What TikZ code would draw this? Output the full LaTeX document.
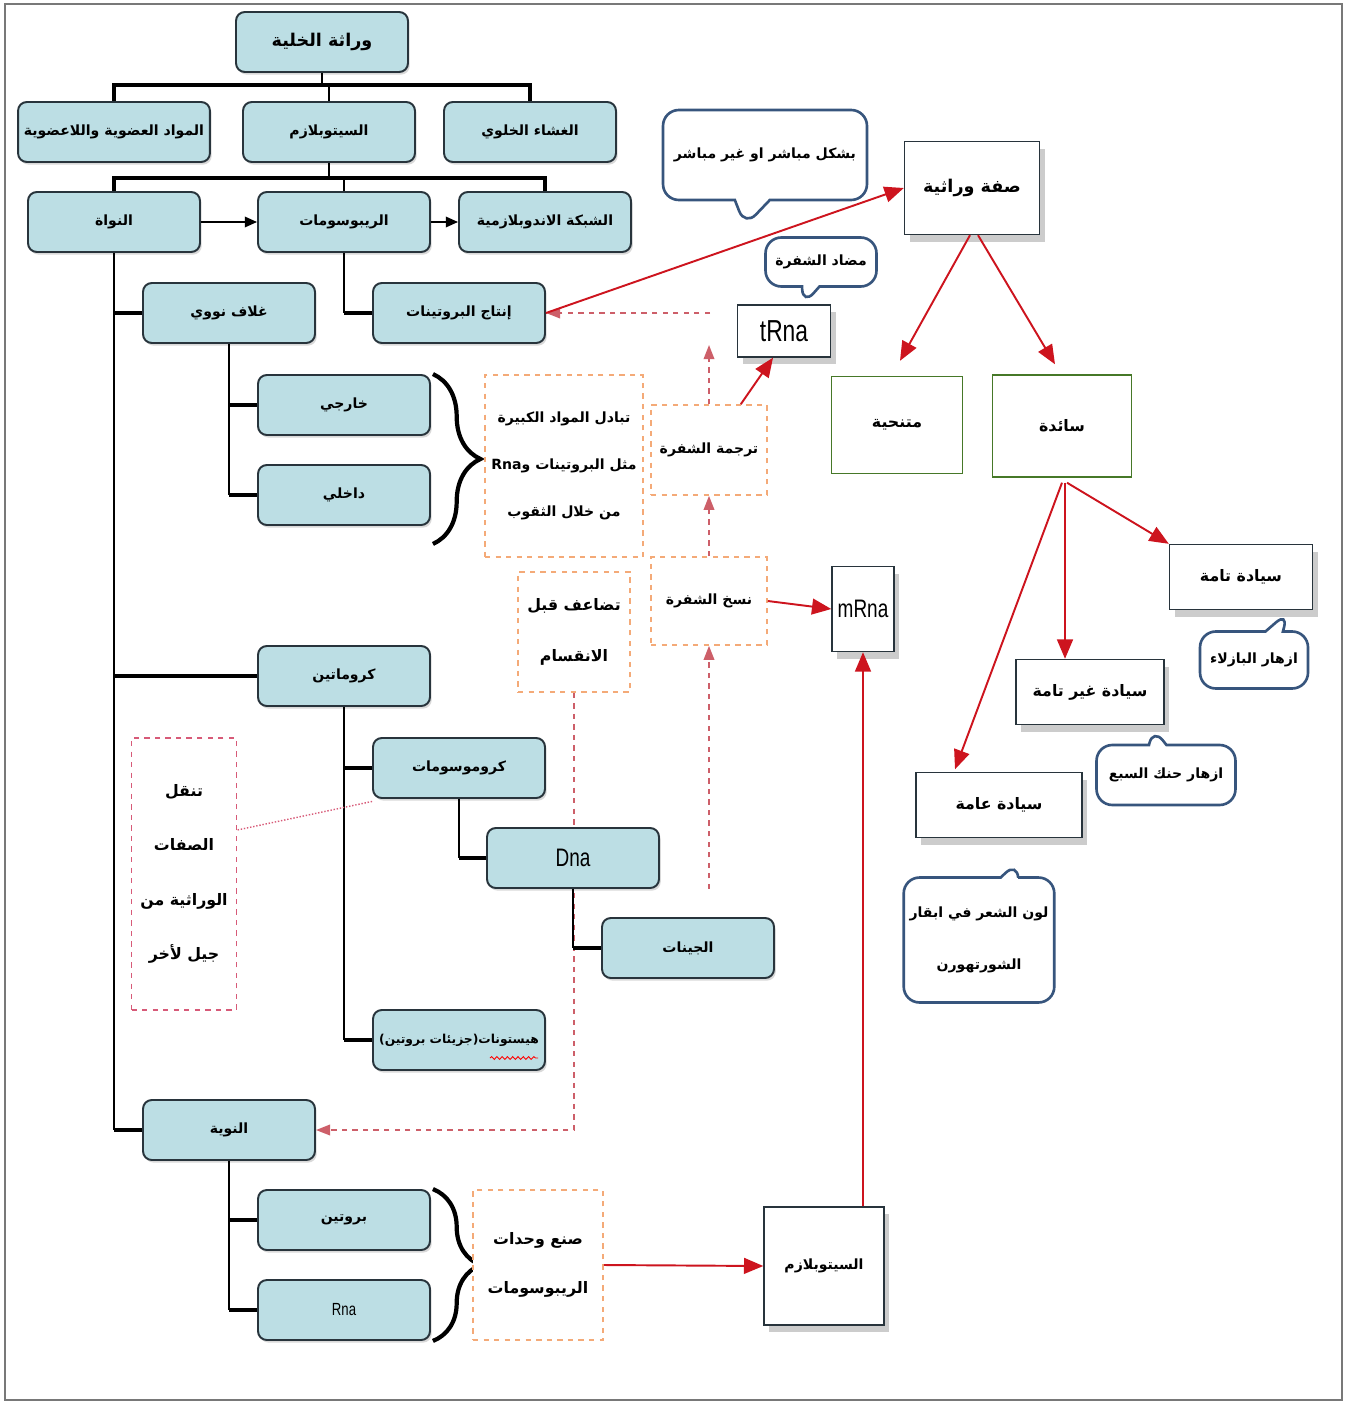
\documentclass[tikz,border=0pt]{standalone}
\usepackage{fontspec}
\usetikzlibrary{shapes.callouts,shadows,arrows.meta,backgrounds,decorations.pathreplacing,decorations.pathmorphing}
\TeXXeTstate=1
\newfontfamily\arabicfont[Script=Arabic]{DejaVu Sans}
\newfontfamily\latinfont[FakeStretch=0.75]{Liberation Sans}
\newcommand{\artxt}[1]{\beginR#1\endR}

\definecolor{tealfill}{RGB}{188,222,228}
\definecolor{boxline}{RGB}{40,52,60}
\definecolor{arrowred}{RGB}{205,20,30}
\definecolor{dashred}{RGB}{205,95,105}
\definecolor{dashorange}{RGB}{244,170,120}
\definecolor{dashpink}{RGB}{215,90,120}
\definecolor{bubbleblue}{RGB}{55,85,125}
\definecolor{leafgreen}{RGB}{70,120,40}
\definecolor{framegray}{RGB}{120,120,120}

\tikzset{
  tealbox/.style={draw=boxline, fill=tealfill, line width=1.1pt, rounded corners=5pt,
    minimum width=3.44cm, minimum height=1.2cm, font=\arabicfont\bfseries\footnotesize,
    drop shadow={shadow xshift=1pt, shadow yshift=-1.5pt, opacity=0.3}},
  whitebox/.style={draw=boxline, fill=white, line width=0.8pt, align=center,
    font=\arabicfont\bfseries\small,
    drop shadow={shadow xshift=3pt, shadow yshift=-4pt, opacity=0.4}},
  greenbox/.style={draw=leafgreen, fill=white, line width=0.8pt, font=\arabicfont\bfseries\small},
  orangebox/.style={draw=dashorange, dashed, line width=0.9pt, fill=white, align=center,
    font=\arabicfont\bfseries\footnotesize},
  pinkbox/.style={draw=dashpink, dashed, line width=0.9pt, fill=white, align=center,
    font=\arabicfont\bfseries\small},
  bubble/.style={rectangle callout, draw=bubbleblue, line width=1.5pt, rounded corners=9pt,
    fill=white, align=center, font=\arabicfont\bfseries\footnotesize, callout pointer width=0.35cm},
  bar/.style={line width=2.6pt, black},
  trunk/.style={line width=1.6pt, black},
  stub/.style={line width=2.8pt, black},
  blackarrow/.style={line width=1pt, black, -{Triangle[length=7pt,width=6pt]}},
  redarrow/.style={line width=1.1pt, arrowred, -{Triangle[length=11pt,width=9pt]}},
  dasharrow/.style={line width=1pt, dashred, dashed, -{Triangle[length=8pt,width=6pt]}},
  curly/.style={line width=2.4pt, black, decorate, decoration={brace, amplitude=0.95cm}},
}

\begin{document}
\begin{tikzpicture}[x=0.02cm,y=-0.02cm]
  \useasboundingbox (0,0) rectangle (1345,1402);
  \draw[framegray, line width=0.6pt] (5,4) rectangle (1342,1400);

  % Top tree
  \node[tealbox, font=\arabicfont\bfseries\normalsize] (cell) at (322,42) {\artxt{وراثة الخلية}};
  \node[tealbox] (matter) at (114,132) {\artxt{المواد العضوية واللاعضوية}};
  \node[tealbox] (cyto) at (329,132) {\artxt{السيتوبلازم}};
  \node[tealbox] (memb) at (530,132) {\artxt{الغشاء الخلوي}};
  \node[tealbox] (nucleus) at (114,222) {\artxt{النواة}};
  \node[tealbox] (ribo) at (344,222) {\artxt{الريبوسومات}};
  \node[tealbox] (er) at (545,222) {\artxt{الشبكة الاندوبلازمية}};

  \coordinate (barA) at (322,85);
  \coordinate (barB) at (329,178);
  \draw[bar] (matter.north) |- (barA) -| (memb.north);
  \draw[trunk] (cell.south) -- (barA);
  \draw[trunk] (cyto.north) -- (cyto.north |- barA);
  \draw[bar] (nucleus.north) |- (barB) -| (er.north);
  \draw[trunk] (cyto.south) -- (barB);
  \draw[trunk] (ribo.north) -- (ribo.north |- barB);
  \draw[blackarrow] (nucleus) -- (ribo);
  \draw[blackarrow] (ribo) -- (er);

  % Nucleus branch
  \node[tealbox] (envelope) at (229,313) {\artxt{غلاف نووي}};
  \node[tealbox] (protprod) at (459,313) {\artxt{إنتاج البروتينات}};
  \node[tealbox] (outer) at (344,405) {\artxt{خارجي}};
  \node[tealbox] (inner) at (344,495) {\artxt{داخلي}};
  \node[tealbox] (chromatin) at (344,676) {\artxt{كروماتين}};
  \node[tealbox] (chromo) at (459,768) {\artxt{كروموسومات}};
  \node[tealbox, font=\latinfont\Large] (dna) at (573,858) {Dna};
  \node[tealbox] (genes) at (688,948) {\artxt{الجينات}};
  \node[tealbox, font=\arabicfont\bfseries\scriptsize] (histone) at (459,1040) {\artxt{هيستونات(جزيئات بروتين)}};
  \node[tealbox] (nucleolus) at (229,1130) {\artxt{النوية}};
  \node[tealbox] (protein) at (344,1220) {\artxt{بروتين}};
  \node[tealbox, font=\latinfont\normalsize] (rna) at (344,1310) {Rna};

  \draw[trunk] (nucleus.south) -- (nucleus.south |- nucleolus);
  \draw[stub] (nucleus.south |- envelope) -- (envelope.west);
  \draw[stub] (nucleus.south |- chromatin) -- (chromatin.west);
  \draw[stub] (nucleus.south |- nucleolus) -- (nucleolus.west);
  \draw[trunk] (ribo.south) -- (ribo.south |- protprod);
  \draw[stub] (ribo.south |- protprod) -- (protprod.west);
  \draw[trunk] (envelope.south) -- (envelope.south |- inner);
  \draw[stub] (envelope.south |- outer) -- (outer.west);
  \draw[stub] (envelope.south |- inner) -- (inner.west);
  \draw[trunk] (chromatin.south) -- (chromatin.south |- histone);
  \draw[stub] (chromatin.south |- chromo) -- (chromo.west);
  \draw[stub] (chromatin.south |- histone) -- (histone.west);
  \draw[trunk] (chromo.south) -- (chromo.south |- dna);
  \draw[stub] (chromo.south |- dna) -- (dna.west);
  \draw[trunk] (dna.south) -- (dna.south |- genes);
  \draw[stub] (dna.south |- genes) -- (genes.west);
  \draw[trunk] (nucleolus.south) -- (nucleolus.south |- rna);
  \draw[stub] (nucleolus.south |- protein) -- (protein.west);
  \draw[stub] (nucleolus.south |- rna) -- (rna.west);
  \draw[red, line width=0.5pt, decorate, decoration={snake, segment length=3pt, amplitude=0.8pt}]
    ([xshift=0.62cm,yshift=-0.36cm]histone.center) -- ++(48,0);

  % Braces
  \draw[curly] ([xshift=0.04cm]outer.north east) -- ([xshift=0.04cm,yshift=-0.36cm]inner.south east);
  \draw[curly] ([xshift=0.04cm]protein.north east) -- ([xshift=0.04cm]rna.south east);

  % Dashed notes
  \node[orangebox, minimum width=3.16cm, minimum height=3.64cm] (exchange) at (564,466)
    {\artxt{تبادل المواد الكبيرة}\\[0.6cm]\artxt{مثل البروتينات و\beginL Rna\endL}\\[0.6cm]\artxt{من خلال الثقوب}};
  \node[orangebox, minimum width=2.32cm, minimum height=1.8cm] (translate) at (709,450) {\artxt{ترجمة الشفرة}};
  \node[orangebox, minimum width=2.32cm, minimum height=1.76cm] (transcribe) at (709,601) {\artxt{نسخ الشفرة}};
  \node[orangebox, font=\arabicfont\bfseries\small, minimum width=2.24cm, minimum height=2.4cm] (replicate) at (574,632)
    {\artxt{تضاعف قبل}\\[0.65cm]\artxt{الانقسام}};
  \node[orangebox, font=\arabicfont\bfseries\small, minimum width=2.6cm, minimum height=3cm] (ribomake) at (538,1265)
    {\artxt{صنع وحدات}\\[0.6cm]\artxt{الريبوسومات}};
  \node[pinkbox, minimum width=2.1cm, minimum height=5.44cm] (transfer) at (184,874)
    {\artxt{تنقل}\\[0.7cm]\artxt{الصفات}\\[0.7cm]\artxt{الوراثية من}\\[0.7cm]\artxt{جيل لأخر}};
  \draw[dashpink, densely dotted, line width=0.8pt] ([yshift=-0.05cm]chromo.south west) -- ([yshift=0.88cm]transfer.east);

  % Protein synthesis
  \node[whitebox, font=\arabicfont\bfseries\footnotesize, minimum width=2.4cm, minimum height=2.36cm] (cytoplasm) at (824,1266) {\artxt{السيتوبلازم}};
  \node[whitebox, font=\latinfont\Large, minimum width=1.24cm, minimum height=1.7cm, inner sep=1pt] (mrna) at (863,609) {mRna};
  \node[whitebox, font=\latinfont\LARGE, minimum width=1.86cm, minimum height=1.04cm] (trna) at (784,331) {tRna};

  \coordinate (tipT) at (709,345);
  \coordinate (tailP) at (710,313);
  \draw[dasharrow] (transcribe.south |- dna.south) -- (transcribe.south);
  \draw[dasharrow] (transcribe.north) -- (translate.south);
  \draw[dasharrow] (translate.north) -- (tipT);
  \draw[dasharrow] (tailP) -- (protprod.east);
  \begin{scope}[on background layer]
    \draw[dasharrow] (replicate.south) |- (nucleolus.east);
  \end{scope}
  \draw[redarrow] (ribomake.east) -- (cytoplasm.west);
  \draw[redarrow] (mrna.south |- cytoplasm.north) -- (mrna.south);
  \draw[redarrow] (transcribe.east) -- (mrna.west);
  \draw[redarrow] ([xshift=-0.54cm]translate.north east) -- ([xshift=-0.22cm]trna.south);

  % Trait
  \node[whitebox, font=\arabicfont\bfseries\normalsize, minimum width=2.7cm, minimum height=1.86cm] (trait) at (972,188) {\artxt{صفة وراثية}};
  \node[greenbox, minimum width=2.62cm, minimum height=1.94cm] (recessive) at (897,425) {\artxt{متنحية}};
  \node[greenbox, minimum width=2.78cm, minimum height=2.04cm] (dominant) at (1062,426) {\artxt{سائدة}};
  \node[whitebox, minimum width=2.86cm, minimum height=1.3cm] (complete) at (1241,577) {\artxt{سيادة تامة}};
  \node[whitebox, minimum width=2.96cm, minimum height=1.3cm] (incomplete) at (1090,692) {\artxt{سيادة غير تامة}};
  \node[whitebox, minimum width=3.32cm, minimum height=1.3cm] (codominant) at (999,805) {\artxt{سيادة عامة}};

  \draw[redarrow] (protprod.east) -- (trait.west);
  \draw[redarrow] ([xshift=-0.04cm]trait.south) -- ([xshift=0.06cm,yshift=0.3cm]recessive.north);
  \draw[redarrow] ([xshift=0.12cm]trait.south) -- ([xshift=-0.14cm,yshift=0.2cm]dominant.north);
  \draw[redarrow] ([xshift=0.1cm,yshift=-0.1cm]dominant.south) -- (complete.north west);
  \draw[redarrow] ([xshift=0.06cm,yshift=-0.1cm]dominant.south) -- ([xshift=0.06cm]dominant.south |- incomplete.north);
  \draw[redarrow] ([yshift=-0.1cm]dominant.south) -- ([xshift=-0.88cm,yshift=0.05cm]codominant.north);

  % Callouts
  \coordinate (ptDirect) at (745,226);
  \coordinate (ptAnti) at (803,305);
  \coordinate (ptPea) at (1288,612);
  \coordinate (ptSnap) at (1153,728);
  \coordinate (ptCow) at (1017,862);
  \node[bubble, minimum width=4.08cm, minimum height=1.8cm, callout pointer width=0.7cm, callout absolute pointer=(ptDirect)] (direct) at (765,155) {\artxt{بشكل مباشر او غير مباشر}};
  \node[bubble, minimum width=2.22cm, minimum height=0.98cm, callout absolute pointer=(ptAnti)] (anticodon) at (821,262) {\artxt{مضاد الشفرة}};
  \node[bubble, minimum width=2.16cm, minimum height=1.14cm, callout absolute pointer=(ptPea)] (pea) at (1254,660) {\artxt{ازهار البازلاء}};
  \node[bubble, minimum width=2.78cm, minimum height=1.2cm, callout absolute pointer=(ptSnap)] (snap) at (1166,775) {\artxt{ازهار حنك السبع}};
  \node[bubble, minimum width=2.9cm, minimum height=2.5cm, callout absolute pointer=(ptCow)] (cow) at (979,940)
    {\artxt{لون الشعر في ابقار}\\[0.7cm]\artxt{الشورتهورن}};
\end{tikzpicture}
\end{document}
